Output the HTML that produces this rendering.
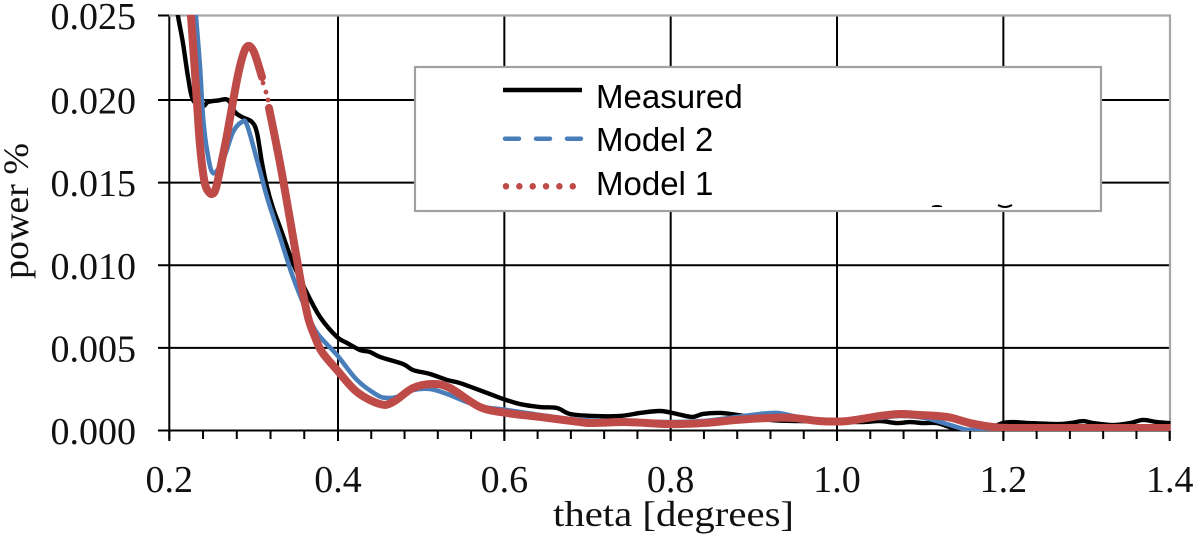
<!DOCTYPE html>
<html lang="en">
<head>
<meta charset="utf-8">
<title>Power vs theta</title>
<style>
html,body{margin:0;padding:0;background:#fff;width:1200px;height:538px;overflow:hidden}
svg{display:block}
.tick{font-family:"Liberation Serif",serif;font-size:38px;fill:#111}
.title{font-family:"Liberation Serif",serif;font-size:36px;fill:#111}
.leg{font-family:"Liberation Sans",sans-serif;font-size:33px;fill:#000}
</style>
</head>
<body>
<svg id="chart" width="1200" height="538" viewBox="0 0 1200 538" xmlns="http://www.w3.org/2000/svg">
  <defs><clipPath id="plot-clip"><rect x="169" y="15" width="1001.5" height="416"/></clipPath></defs>
  <g id="grid"></g>
  <g id="series" clip-path="url(#plot-clip)"></g>
  <g id="labels"></g>
  <text class="title" x="553" y="526" textLength="241" lengthAdjust="spacingAndGlyphs">theta [degrees]</text>
  <text class="title" transform="translate(28,279) rotate(-90)" textLength="136" lengthAdjust="spacingAndGlyphs">power %</text>
  <g>
    <rect x="415" y="67" width="686" height="144" fill="#fff" stroke="#a0a0a0" stroke-width="2.2"/>
    <line x1="503" y1="90" x2="582" y2="90" stroke="#000" stroke-width="4.5"/>
    <text class="leg" x="596" y="108">Measured</text>
    <line x1="505" y1="138.7" x2="582" y2="138.7" stroke="#4a7ebb" stroke-width="4.5" stroke-linecap="round" stroke-dasharray="14 17"/>
    <text class="leg" x="596" y="151">Model 2</text>
    <line x1="506" y1="186.3" x2="574" y2="186.3" stroke="#be4b48" stroke-width="6.5" stroke-linecap="round" stroke-dasharray="0 13.35"/>
    <text class="leg" x="596" y="195">Model 1</text>
    <path d="M932 206.5 Q937 204.5 942 206.5 Z" fill="#000" stroke="#000" stroke-width="1"/>
    <path d="M998 205 Q1005 209 1012 205" fill="none" stroke="#000" stroke-width="2"/>
  </g>
</svg>
<script>
const xTickLabels = ["0.2","0.4","0.6","0.8","1.0","1.2","1.4"];
const yTickLabels = ["0.000","0.005","0.010","0.015","0.020","0.025"];
const xMinorStep = 0.04;

const measuredTheta = [0.2079,0.2103,0.2162,0.2222,0.2281,0.2400,0.2459,0.2577,0.2696,0.2779,0.2862,0.2980,0.3040,0.3099,0.3158,0.3229,0.3312,0.3466,0.3632,0.3787,0.3988,0.4108,0.4265,0.4385,0.4505,0.4782,0.4902,0.5106,0.5311,0.5467,0.5792,0.5984,0.6188,0.6429,0.6633,0.6790,0.7066,0.7391,0.7631,0.7872,0.8076,0.8257,0.8389,0.8593,0.8798,0.9194,0.9555,0.9916,1.0277,1.0517,1.0721,1.0878,1.1034,1.1202,1.1395,1.1599,1.1804,1.1996,1.2116,1.2321,1.2645,1.2802,1.2958,1.3078,1.3319,1.3523,1.3679,1.3848,1.4000];
const measuredPower = [0.0259,0.02497,0.02337,0.02136,0.0200,0.01964,0.01988,0.01997,0.0200,0.01927,0.01897,0.01867,0.0180,0.01619,0.01474,0.01346,0.01231,0.01014,0.00832,0.00687,0.00566,0.0053,0.00487,0.00475,0.00445,0.00402,0.00366,0.00342,0.00306,0.00287,0.00227,0.00191,0.0016,0.00142,0.00136,0.0010,0.00088,0.00088,0.00106,0.00118,0.0010,0.00082,0.0010,0.00106,0.00094,0.00064,0.00057,0.00057,0.00051,0.00057,0.00045,0.00051,0.00045,0.00045,0.00015,0.00003,0.00009,0.00045,0.00051,0.00045,0.00039,0.00045,0.00057,0.00045,0.00033,0.00045,0.00064,0.00051,0.00045];

const model2Theta = [0.2305,0.2316,0.2364,0.2400,0.2447,0.2518,0.2637,0.2755,0.2862,0.2921,0.3040,0.3158,0.3253,0.3312,0.3466,0.3632,0.3751,0.3988,0.4228,0.4469,0.4589,0.4709,0.4902,0.5106,0.5311,0.5551,0.5743,0.6032,0.6429,0.6910,0.7391,0.7992,0.8389,0.8798,0.9074,0.9279,0.9471,0.9760,1.0000,1.0277,1.0517,1.0757,1.1058,1.1323,1.1479,1.1599,1.1996,1.3162,1.4000];
const model2Power = [0.0259,0.02497,0.02195,0.01897,0.01697,0.01558,0.01637,0.01806,0.01867,0.01849,0.01637,0.01413,0.01262,0.01171,0.00929,0.00717,0.0059,0.00457,0.00306,0.00215,0.00197,0.00203,0.00245,0.00251,0.00221,0.00172,0.00142,0.00124,0.00094,0.00064,0.00057,0.00051,0.00057,0.00082,0.0010,0.00106,0.00088,0.00057,0.00057,0.00076,0.00076,0.00088,0.00076,0.00039,0.00015,0.00003,0.00009,0.00015,0.00015];

const model1Theta = [0.2249,0.2257,0.2305,0.2352,0.2388,0.2423,0.2459,0.2506,0.2553,0.2625,0.2684,0.2803,0.2874,0.2933,0.3004,0.3099,0.3111,0.3146,0.3170,0.3182,0.3312,0.3430,0.3549,0.3644,0.3727,0.3810,0.3988,0.4228,0.4505,0.4661,0.4902,0.5142,0.5347,0.5707,0.6032,0.6429,0.6910,0.7066,0.7475,0.7992,0.8389,0.8798,0.9194,0.9471,0.9796,1.0120,1.0517,1.0757,1.0998,1.1323,1.1599,1.1876,1.2116,1.3000,1.4000];
const model1Power = [0.0259,0.02497,0.0216,0.0180,0.01607,0.01492,0.01449,0.01431,0.01467,0.01637,0.01788,0.0212,0.02266,0.0232,0.02284,0.02136,0.02101,0.02047,0.0200,0.01952,0.01619,0.0128,0.00929,0.00687,0.00566,0.00475,0.00366,0.00233,0.0016,0.00172,0.00257,0.00281,0.00257,0.00142,0.00106,0.00082,0.00051,0.00045,0.00051,0.00039,0.00045,0.00064,0.00076,0.00076,0.00057,0.00057,0.00088,0.0010,0.00094,0.00082,0.00045,0.00021,0.00015,0.00015,0.00015];
const model1DotsFrom = 0.3105;
const model1DotsTo = 0.3175;

const NS = "http://www.w3.org/2000/svg";
const gridG = document.getElementById("grid");
const seriesG = document.getElementById("series");
const labelsG = document.getElementById("labels");

function xScale(v){ return v < 0.4 ? 169.3 + (v - 0.2) * 843.5 : 338 + (v - 0.4) * 831.7; }
function yScale(v){ return v >= 0.02 ? 100 - (v - 0.02) * 16900 : 430.5 - v * 16525; }

function addLine(x1, y1, x2, y2, color, width){
  const l = document.createElementNS(NS, "line");
  l.setAttribute("x1", x1);
  l.setAttribute("y1", y1);
  l.setAttribute("x2", x2);
  l.setAttribute("y2", y2);
  l.setAttribute("stroke", color);
  l.setAttribute("stroke-width", width);
  gridG.appendChild(l);
  return l;
}

function smoothPath(pts){
  if (pts.length < 2) return "";
  let d = "M" + pts[0][0].toFixed(2) + " " + pts[0][1].toFixed(2);
  for (let i = 0; i < pts.length - 1; i++){
    const p0 = pts[Math.max(i - 1, 0)], p1 = pts[i], p2 = pts[i + 1], p3 = pts[Math.min(i + 2, pts.length - 1)];
    const c1x = p1[0] + (p2[0] - p0[0]) / 6, c1y = p1[1] + (p2[1] - p0[1]) / 6;
    const c2x = p2[0] - (p3[0] - p1[0]) / 6, c2y = p2[1] - (p3[1] - p1[1]) / 6;
    d += "C" + c1x.toFixed(2) + " " + c1y.toFixed(2) + " " + c2x.toFixed(2) + " " + c2y.toFixed(2) + " " + p2[0].toFixed(2) + " " + p2[1].toFixed(2);
  }
  return d;
}

function addCurve(pts, color, width, name){
  const p = document.createElementNS(NS, "path");
  p.setAttribute("d", smoothPath(pts));
  p.setAttribute("fill", "none");
  p.setAttribute("stroke", color);
  p.setAttribute("stroke-width", width);
  p.setAttribute("stroke-linejoin", "round");
  p.setAttribute("stroke-linecap", "round");
  
  
  seriesG.appendChild(p);
}

function toPoints(thetas, powers){
  return thetas.map(function(t, i){ return [xScale(t), yScale(powers[i])]; });
}

/* horizontal grid + y ticks */
yTickLabels.forEach(function(label){
  const v = parseFloat(label);
  const y = yScale(v);
  const isTop = v >= 0.025;
  const line = addLine(158, y, isTop ? 169.3 : 1170, y, "#000", 2);
  
  
  const t = document.createElementNS(NS, "text");
  t.setAttribute("class", "tick");
  t.setAttribute("x", 136);
  t.setAttribute("y", y + 13.5);
  t.setAttribute("text-anchor", "end");
  
  
  t.textContent = label;
  labelsG.appendChild(t);
});

/* minor x ticks */
const xMin = parseFloat(xTickLabels[0]);
const xMax = parseFloat(xTickLabels[xTickLabels.length - 1]);
for (let v = xMin; v < xMax + 1e-6; v += xMinorStep){
  const m = addLine(xScale(v), 430.5, xScale(v), 439, "#000", 2);
  
  
}

/* vertical grid + x labels */
xTickLabels.forEach(function(label){
  const v = parseFloat(label);
  const x = xScale(v);
  const isRight = v >= xMax;
  const line = addLine(x, isRight ? 430.5 : 15.5, x, 441, "#000", 2);
  
  
  const t = document.createElementNS(NS, "text");
  t.setAttribute("class", "tick");
  t.setAttribute("x", x);
  t.setAttribute("y", 492);
  t.setAttribute("text-anchor", "middle");
  
  
  t.textContent = label;
  labelsG.appendChild(t);
});

/* frame */
const frameTop = addLine(169, 15.5, 1171, 15.5, "#a6a6a6", 2.2);


const frameRight = addLine(1170, 15.5, 1170, 430.5, "#a6a6a6", 2.2);



/* series */
addCurve(toPoints(measuredTheta, measuredPower), "#000", 4.4, "series-measured");
addCurve(toPoints(model2Theta, model2Power), "#4a7ebb", 4.6, "series-model-2");

const model1Pts = toPoints(model1Theta, model1Power);
addCurve(model1Pts.filter(function(p, i){ return model1Theta[i] < model1DotsFrom; }), "#be4b48", 8, "series-model-1-upper");
addCurve(model1Pts.filter(function(p, i){ return model1Theta[i] > model1DotsTo; }), "#be4b48", 8, "series-model-1-lower");
model1Pts.forEach(function(p, i){
  if (model1Theta[i] >= model1DotsFrom && model1Theta[i] <= model1DotsTo){
    const c = document.createElementNS(NS, "circle");
    c.setAttribute("cx", p[0]);
    c.setAttribute("cy", p[1]);
    c.setAttribute("r", 2.4);
    c.setAttribute("fill", "#be4b48");
    
    
    seriesG.appendChild(c);
  }
});
</script>
</body>
</html>
